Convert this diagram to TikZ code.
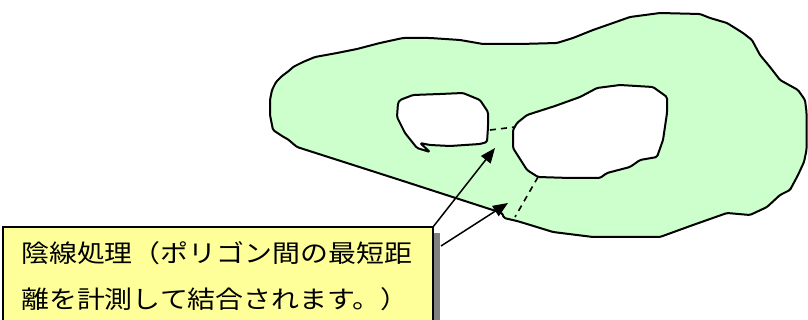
\documentclass[tikz,border=0pt]{standalone}
\usepackage{fontspec}
\newfontfamily\jpfont[FakeStretch=1.14]{Noto Sans CJK JP}
\usetikzlibrary{arrows.meta}
\definecolor{areagreen}{HTML}{CCFFCC}
\definecolor{noteyellow}{HTML}{FFFF99}
\definecolor{shadowgray}{HTML}{808080}
\tikzset{
  outline/.style={draw=black, line width=2pt, line join=round, rounded corners=1.5pt},
  joinline/.style={draw=black, line width=1.6pt, dash pattern=on 6pt off 5pt},
  pointer/.style={draw=black, line width=1.5pt, -{Triangle[length=15pt,width=12pt]}},
  notebox/.style={draw=black, line width=1.3pt, fill=noteyellow, minimum width=430pt, minimum height=110pt, inner sep=0pt, outer sep=0pt},
  notetext/.style={font=\jpfont\fontsize{24.5}{30}\selectfont, inner sep=0pt, anchor=base west}
}
\begin{document}
\begin{tikzpicture}[x=1pt,y=-1pt]
\useasboundingbox (0,0) rectangle (808,320);
\clip (0,0) rectangle (808,320);
% outer polygon
\path[outline, fill=areagreen]
 (270,100) -- (272,90) -- (276,82) -- (282,76) -- (290,70) -- (293,67) -- (303,62) -- (315,57)
 -- (337,53) -- (357,49) -- (380,43) -- (403,38) -- (430,38) -- (460,40) -- (483,44)
 -- (520,44) -- (557,43) -- (573,38) -- (593,30) -- (613,23) -- (630,17) -- (660,13)
 -- (700,14) -- (710,18) -- (727,23) -- (743,33) -- (752,40) -- (760,55) -- (770,67)
 -- (780,80) -- (798,90) -- (805,100) -- (806.5,112) -- (806.5,150) -- (804,162) -- (798,175) -- (790,190)
 -- (780,195) -- (767,207) -- (750,215) -- (727,213) -- (693,225) -- (660,237)
 -- (630,237) -- (593,237) -- (553,232) -- (527,224) -- (517,221) -- (504,218)
 -- (502,213) -- (400,180) -- (297,147) -- (291,142) -- (289,140) -- (282,136)
 -- (273,130) -- (270,115) -- cycle;
% left hole
\path[outline, fill=white]
 (400,100) -- (413,95) -- (440,94) -- (463,93) -- (480,100) -- (488,112) -- (488,127)
 -- (487,142) -- (480,144) -- (450,146) -- (430,145) -- (420,143) -- (430,152)
 -- (417,148) -- (405,133) -- (397,117) -- (398,103) -- cycle;
% right hole
\path[outline, fill=white]
 (517,123) -- (527,115) -- (555,106) -- (580,97) -- (597,88) -- (620,85) -- (653,87)
 -- (667,97) -- (667,113) -- (663,140) -- (657,157) -- (640,160) -- (630,167)
 -- (607,173) -- (600,178) -- (570,178) -- (538,177) -- (527,170) -- (513,148)
 -- (513,130) -- cycle;
% shortest connections
\coordinate (a1) at (490,130);
\coordinate (a2) at (515,127);
\coordinate (b1) at (538,177);
\coordinate (b2) at (515,217);
\draw[joinline] (a1) -- (a2);
\draw[joinline] (b1) -- (b2);
% note box with shadow
\fill[shadowgray] (9,233) rectangle (440,340);
\node[notebox, anchor=north west] (note) at (3,227) {};
\node[notetext] (lineA) at (21,263) {陰線処理（ポリゴン間の最短距};
\node[notetext] (lineB) at (21,308) {離を計測して結合されます。）};
% pointers
\coordinate (tipA) at (495,148);
\coordinate (tipB) at (508,203);
\coordinate (startB) at (441,246);
\draw[pointer] (note.north east) -- (tipA);
\draw[pointer] (startB) -- (tipB);
\end{tikzpicture}
\end{document}
